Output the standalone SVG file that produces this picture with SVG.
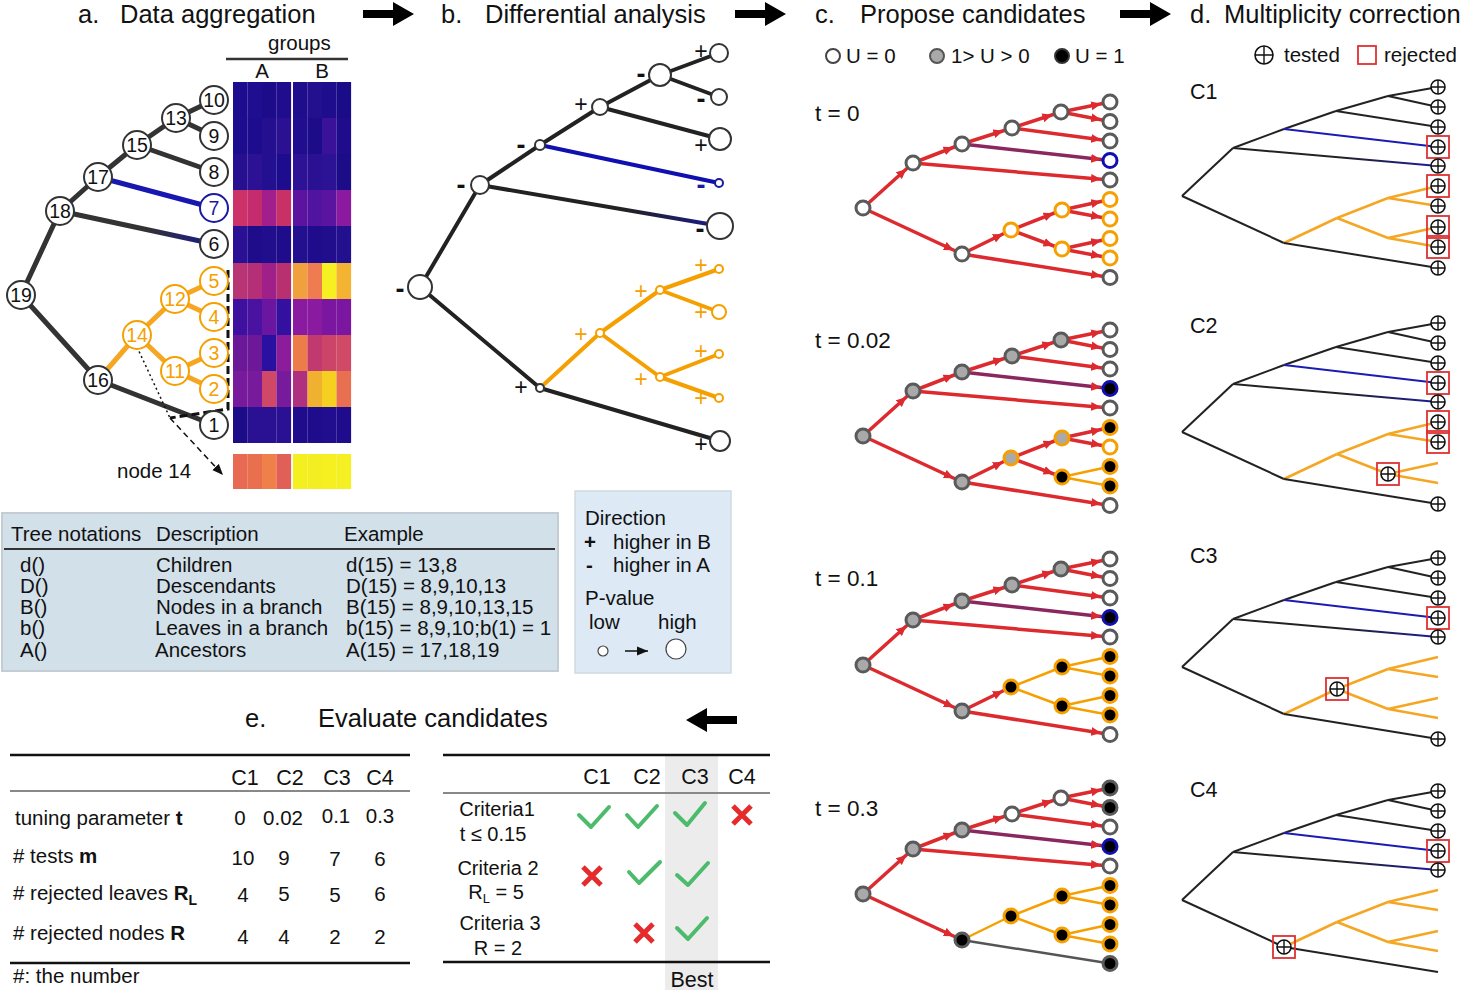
<svg xmlns="http://www.w3.org/2000/svg" width="1460" height="990" viewBox="0 0 1460 990">
<style>
text{font-family:"Liberation Sans",Arial,Helvetica,sans-serif;fill:#111}
.ttl{font-size:25.5px}
.nl{font-size:19.5px;text-anchor:middle}
.t19{font-size:20.5px}
.t18{font-size:20.5px}
.t20{font-size:21.5px}
.t22{font-size:22.5px}
.tc{font-size:20px}
.mid{text-anchor:middle}
.ea{stroke:#333;stroke-width:5;stroke-linecap:round;fill:none}
.eo{stroke:#f5a623}
.eb{stroke:#1818b0}
.na{fill:#fff;stroke:#333;stroke-width:2}
.no{stroke:#f5a000}
.nb{stroke:#1a1aa0}
.tor{fill:#f5a000}
.tbl{fill:#1a1aa0}
.bb{stroke:#222;stroke-width:4;stroke-linecap:round;fill:none}
.bo{stroke:#f5a000}
.bbl{stroke:#1010b0}
.sg{font-size:23px;text-anchor:middle}
.mn{font-weight:bold;font-size:27px}
.r{stroke:#dc2a2e;stroke-width:3.5;fill:none;marker-end:url(#ar)}
.rp{stroke:#8a2660}
.po{stroke:#f5a000;stroke-width:2.5;fill:none}
.pg{stroke:#555;stroke-width:2.5;fill:none}
.cw{fill:#fff;stroke:#5a5a5a;stroke-width:3}
.cg{fill:#a9a9a9;stroke:#5a5a5a;stroke-width:3}
.ck{fill:#000;stroke:#5a5a5a;stroke-width:3}
.so{stroke:#f5a000}
.sb{stroke:#1010b0}
.dk{stroke:#222;stroke-width:2;fill:none}
.dbl{stroke:#1c1cb4}
.dor{stroke:#f5a623;stroke-width:2.5}
.rej{fill:none;stroke:#e03030;stroke-width:1.8}
.chk{fill:none;stroke:#4cbb6c;stroke-width:4;stroke-linecap:round;stroke-linejoin:round}
.crs{fill:none;stroke:#e52b2b;stroke-width:5}
.arw{fill:#000}
</style>
<defs>
<marker id="ar" markerUnits="userSpaceOnUse" markerWidth="20" markerHeight="10" refX="19" refY="5" orient="auto">
<path d="M0,0.5 L10,5 L0,9.5 z" fill="#dc2a2e"/>
</marker>
<marker id="ak" markerUnits="userSpaceOnUse" markerWidth="12" markerHeight="10" refX="11" refY="5" orient="auto">
<path d="M0,0.5 L11,5 L0,9.5 z" fill="#111"/>
</marker>
<linearGradient id="ga6" gradientUnits="userSpaceOnUse" x1="60" y1="211" x2="214" y2="244"><stop offset="0.55" stop-color="#333"/><stop offset="1" stop-color="#1a1a8a"/></linearGradient>
<linearGradient id="gb6" gradientUnits="userSpaceOnUse" x1="480" y1="185" x2="720" y2="226"><stop offset="0.6" stop-color="#222"/><stop offset="1" stop-color="#1a1a8a"/></linearGradient>
<linearGradient id="gd6" gradientUnits="userSpaceOnUse" x1="1233" y1="148" x2="1438" y2="166"><stop offset="0.5" stop-color="#222"/><stop offset="1" stop-color="#1c1c9a"/></linearGradient>
<g id="cc"><circle r="7" fill="#fff" stroke="#111" stroke-width="1.6"/><path d="M-7,0H7M0,-7V7" stroke="#111" stroke-width="1.4"/></g>
</defs>
<rect width="1460" height="990" fill="#fff"/>

<!-- titles and arrows -->
<g id="titles">
<text class="ttl" x="78" y="23">a.</text><text class="ttl" x="120" y="23">Data aggregation</text>
<text class="ttl" x="441" y="23">b.</text><text class="ttl" x="485" y="23">Differential analysis</text>
<text class="ttl" x="815" y="23">c.</text><text class="ttl" x="860" y="23">Propose candidates</text>
<text class="ttl" x="1190" y="23">d.</text><text class="ttl" x="1224" y="23">Multiplicity correction</text>
<text class="ttl" x="245" y="727">e.</text><text class="ttl" x="318" y="727">Evaluate candidates</text>
</g>
<g id="big-arrows">
<polygon class="arw" points="363,10 393,10 393,2 414,14 393,26 393,18 363,18"/>
<polygon class="arw" points="735,10 765,10 765,2 786,14 765,26 765,18 735,18"/>
<polygon class="arw" points="1120,10 1150,10 1150,2 1171,14 1150,26 1150,18 1120,18"/>
<polygon class="arw" points="737,716 707,716 707,708 686,720 707,732 707,724 737,724"/>
</g>

<!-- panel a heatmap -->
<g id="heatmap">
<text class="t19" x="268" y="50">groups</text>
<line x1="226" y1="59" x2="348" y2="59" stroke="#333" stroke-width="2.5"/>
<text class="t19 mid" x="262" y="78">A</text>
<text class="t19 mid" x="322" y="78">B</text>
<g id="hm-rows">
<rect x="233" y="82" width="14.6" height="36.2" fill="#1e0c8e"/><rect x="247.5" y="82" width="14.6" height="36.2" fill="#200e90"/><rect x="262" y="82" width="14.6" height="36.2" fill="#1c0c8a"/><rect x="276.5" y="82" width="14.6" height="36.2" fill="#200d8e"/>
<rect x="293" y="82" width="14.6" height="36.2" fill="#1e0d8c"/><rect x="307.5" y="82" width="14.6" height="36.2" fill="#22108e"/><rect x="322" y="82" width="14.6" height="36.2" fill="#1e0d8c"/><rect x="336.5" y="82" width="14.6" height="36.2" fill="#1a0c88"/>
<rect x="233" y="118" width="14.6" height="36.2" fill="#1e0c8e"/><rect x="247.5" y="118" width="14.6" height="36.2" fill="#1e0c8e"/><rect x="262" y="118" width="14.6" height="36.2" fill="#230f90"/><rect x="276.5" y="118" width="14.6" height="36.2" fill="#2c1092"/>
<rect x="293" y="118" width="14.6" height="36.2" fill="#200e8e"/><rect x="307.5" y="118" width="14.6" height="36.2" fill="#1c0c88"/><rect x="322" y="118" width="14.6" height="36.2" fill="#3a129a"/><rect x="336.5" y="118" width="14.6" height="36.2" fill="#1e0c8c"/>
<rect x="233" y="154" width="14.6" height="36.2" fill="#261090"/><rect x="247.5" y="154" width="14.6" height="36.2" fill="#2c1194"/><rect x="262" y="154" width="14.6" height="36.2" fill="#221090"/><rect x="276.5" y="154" width="14.6" height="36.2" fill="#1e0c8e"/>
<rect x="293" y="154" width="14.6" height="36.2" fill="#2e1296"/><rect x="307.5" y="154" width="14.6" height="36.2" fill="#2a1194"/><rect x="322" y="154" width="14.6" height="36.2" fill="#2c1294"/><rect x="336.5" y="154" width="14.6" height="36.2" fill="#1c0c88"/>
<rect x="233" y="190" width="14.6" height="36.2" fill="#cc3168"/><rect x="247.5" y="190" width="14.6" height="36.2" fill="#c42c6e"/><rect x="262" y="190" width="14.6" height="36.2" fill="#a01f8c"/><rect x="276.5" y="190" width="14.6" height="36.2" fill="#c83066"/>
<rect x="293" y="190" width="14.6" height="36.2" fill="#5c14a0"/><rect x="307.5" y="190" width="14.6" height="36.2" fill="#5014a0"/><rect x="322" y="190" width="14.6" height="36.2" fill="#5a14a0"/><rect x="336.5" y="190" width="14.6" height="36.2" fill="#8c1aa0"/>
<rect x="233" y="226" width="14.6" height="37.2" fill="#2a1094"/><rect x="247.5" y="226" width="14.6" height="37.2" fill="#1e0c8a"/><rect x="262" y="226" width="14.6" height="37.2" fill="#200e8c"/><rect x="276.5" y="226" width="14.6" height="37.2" fill="#1e0c8a"/>
<rect x="293" y="226" width="14.6" height="37.2" fill="#22108e"/><rect x="307.5" y="226" width="14.6" height="37.2" fill="#1e0c8c"/><rect x="322" y="226" width="14.6" height="37.2" fill="#200e8c"/><rect x="336.5" y="226" width="14.6" height="37.2" fill="#22108e"/>
<rect x="233" y="263" width="14.6" height="36.2" fill="#b83474"/><rect x="247.5" y="263" width="14.6" height="36.2" fill="#b42e78"/><rect x="262" y="263" width="14.6" height="36.2" fill="#a0208a"/><rect x="276.5" y="263" width="14.6" height="36.2" fill="#b83070"/>
<rect x="293" y="263" width="14.6" height="36.2" fill="#f0a03c"/><rect x="307.5" y="263" width="14.6" height="36.2" fill="#ee7c50"/><rect x="322" y="263" width="14.6" height="36.2" fill="#f6f022"/><rect x="336.5" y="263" width="14.6" height="36.2" fill="#f4b432"/>
<rect x="233" y="299" width="14.6" height="36.2" fill="#3e10a0"/><rect x="247.5" y="299" width="14.6" height="36.2" fill="#4a12a0"/><rect x="262" y="299" width="14.6" height="36.2" fill="#6a16a0"/><rect x="276.5" y="299" width="14.6" height="36.2" fill="#3410a0"/>
<rect x="293" y="299" width="14.6" height="36.2" fill="#8a1aa0"/><rect x="307.5" y="299" width="14.6" height="36.2" fill="#8a1aa0"/><rect x="322" y="299" width="14.6" height="36.2" fill="#7a16a0"/><rect x="336.5" y="299" width="14.6" height="36.2" fill="#7a16a0"/>
<rect x="233" y="335" width="14.6" height="36.2" fill="#6a1898"/><rect x="247.5" y="335" width="14.6" height="36.2" fill="#6c1898"/><rect x="262" y="335" width="14.6" height="36.2" fill="#2a10a0"/><rect x="276.5" y="335" width="14.6" height="36.2" fill="#8c1c9a"/>
<rect x="293" y="335" width="14.6" height="36.2" fill="#ec7c48"/><rect x="307.5" y="335" width="14.6" height="36.2" fill="#c03a70"/><rect x="322" y="335" width="14.6" height="36.2" fill="#cc4468"/><rect x="336.5" y="335" width="14.6" height="36.2" fill="#d04a68"/>
<rect x="233" y="371" width="14.6" height="36.2" fill="#781a9c"/><rect x="247.5" y="371" width="14.6" height="36.2" fill="#781a9c"/><rect x="262" y="371" width="14.6" height="36.2" fill="#d04868"/><rect x="276.5" y="371" width="14.6" height="36.2" fill="#781a9c"/>
<rect x="293" y="371" width="14.6" height="36.2" fill="#b03080"/><rect x="307.5" y="371" width="14.6" height="36.2" fill="#f0b030"/><rect x="322" y="371" width="14.6" height="36.2" fill="#f6d020"/><rect x="336.5" y="371" width="14.6" height="36.2" fill="#e87050"/>
<rect x="233" y="407" width="14.6" height="36" fill="#1c0c88"/><rect x="247.5" y="407" width="14.6" height="36" fill="#2a1092"/><rect x="262" y="407" width="14.6" height="36" fill="#2a1092"/><rect x="276.5" y="407" width="14.6" height="36" fill="#2a1092"/>
<rect x="293" y="407" width="14.6" height="36" fill="#1e0c8c"/><rect x="307.5" y="407" width="14.6" height="36" fill="#1e0c8c"/><rect x="322" y="407" width="14.6" height="36" fill="#200e8e"/><rect x="336.5" y="407" width="14.6" height="36" fill="#1e0c8c"/>
</g>
<g id="node14-bar">
<rect x="233" y="454" width="14.6" height="35" fill="#e86a52"/><rect x="247.5" y="454" width="14.6" height="35" fill="#e8704e"/><rect x="262" y="454" width="14.6" height="35" fill="#f0804a"/><rect x="276.5" y="454" width="14.6" height="35" fill="#e06058"/>
<rect x="293" y="454" width="14.6" height="35" fill="#f4f020"/><rect x="307.5" y="454" width="14.6" height="35" fill="#f2ee22"/><rect x="322" y="454" width="14.6" height="35" fill="#f6f020"/><rect x="336.5" y="454" width="14.6" height="35" fill="#f4f024"/>
</g>
<text class="t19" x="117" y="478">node 14</text>
</g>

<!-- panel a connectors -->
<g id="a-connectors">
<line class="ea" x1="21" y1="295" x2="60" y2="211"/>
<line class="ea" x1="21" y1="295" x2="98" y2="380"/>
<line class="ea" x1="60" y1="211" x2="98" y2="177"/>
<line class="ea" x1="60" y1="211" x2="214" y2="244" style="stroke:url(#ga6)"/>
<line class="ea" x1="98" y1="177" x2="137" y2="145"/>
<line class="ea eb" x1="98" y1="177" x2="214" y2="208"/>
<line class="ea" x1="137" y1="145" x2="176" y2="118"/>
<line class="ea" x1="137" y1="145" x2="214" y2="172"/>
<line class="ea" x1="176" y1="118" x2="214" y2="100"/>
<line class="ea" x1="176" y1="118" x2="214" y2="136"/>
<line class="ea eo" x1="98" y1="380" x2="137" y2="335"/>
<line class="ea" x1="98" y1="380" x2="214" y2="425"/>
<line class="ea eo" x1="137" y1="335" x2="175" y2="299"/>
<line class="ea eo" x1="137" y1="335" x2="175" y2="371"/>
<line class="ea eo" x1="175" y1="299" x2="214" y2="281"/>
<line class="ea eo" x1="175" y1="299" x2="214" y2="317"/>
<line class="ea eo" x1="175" y1="371" x2="214" y2="353"/>
<line class="ea eo" x1="175" y1="371" x2="214" y2="389"/>
<polyline points="228,270 228,409 170,418" fill="none" stroke="#111" stroke-width="3" stroke-dasharray="8,4"/>
<line x1="137" y1="347" x2="170" y2="418" stroke="#111" stroke-width="1.5" stroke-dasharray="2,3"/>
<line x1="170" y1="418" x2="223" y2="475" stroke="#111" stroke-width="1.5" stroke-dasharray="6,4" marker-end="url(#ak)"/>
</g>
<!-- panel a nodes -->
<g id="a-n19"><circle class="na" cx="21" cy="295" r="14"/><text class="nl" x="21" y="302">19</text></g>
<g id="a-n18"><circle class="na" cx="60" cy="211" r="14"/><text class="nl" x="60" y="218">18</text></g>
<g id="a-n17"><circle class="na" cx="98" cy="177" r="14"/><text class="nl" x="98" y="184">17</text></g>
<g id="a-n15"><circle class="na" cx="137" cy="145" r="14"/><text class="nl" x="137" y="152">15</text></g>
<g id="a-n13"><circle class="na" cx="176" cy="118" r="14"/><text class="nl" x="176" y="125">13</text></g>
<g id="a-n10"><circle class="na" cx="214" cy="100" r="14"/><text class="nl" x="214" y="107">10</text></g>
<g id="a-n9"><circle class="na" cx="214" cy="136" r="14"/><text class="nl" x="214" y="143">9</text></g>
<g id="a-n8"><circle class="na" cx="214" cy="172" r="14"/><text class="nl" x="214" y="179">8</text></g>
<g id="a-n7"><circle class="na nb" cx="214" cy="208" r="14"/><text class="nl tbl" x="214" y="215">7</text></g>
<g id="a-n6"><circle class="na" cx="214" cy="244" r="14"/><text class="nl" x="214" y="251">6</text></g>
<g id="a-n16"><circle class="na" cx="98" cy="380" r="14"/><text class="nl" x="98" y="387">16</text></g>
<g id="a-n14"><circle class="na no" cx="137" cy="335" r="14"/><text class="nl tor" x="137" y="342">14</text></g>
<g id="a-n12"><circle class="na no" cx="175" cy="299" r="14"/><text class="nl tor" x="175" y="306">12</text></g>
<g id="a-n11"><circle class="na no" cx="175" cy="371" r="14"/><text class="nl tor" x="175" y="378">11</text></g>
<g id="a-n5"><circle class="na no" cx="214" cy="281" r="14"/><text class="nl tor" x="214" y="288">5</text></g>
<g id="a-n4"><circle class="na no" cx="214" cy="317" r="14"/><text class="nl tor" x="214" y="324">4</text></g>
<g id="a-n3"><circle class="na no" cx="214" cy="353" r="14"/><text class="nl tor" x="214" y="360">3</text></g>
<g id="a-n2"><circle class="na no" cx="214" cy="389" r="14"/><text class="nl tor" x="214" y="396">2</text></g>
<g id="a-n1"><circle class="na" cx="214" cy="425" r="14"/><text class="nl" x="214" y="432">1</text></g>

<!-- panel b connectors -->
<g id="b-connectors">
<line class="bb" x1="420" y1="287" x2="480" y2="185"/>
<line class="bb" x1="420" y1="287" x2="540" y2="388"/>
<line class="bb" x1="480" y1="185" x2="540" y2="145"/>
<line class="bb" x1="480" y1="185" x2="720" y2="226" style="stroke:url(#gb6)"/>
<line class="bb" x1="540" y1="145" x2="600" y2="107"/>
<line class="bb bbl" x1="540" y1="145" x2="719" y2="183"/>
<line class="bb" x1="600" y1="107" x2="660" y2="75"/>
<line class="bb" x1="600" y1="107" x2="720" y2="139"/>
<line class="bb" x1="660" y1="75" x2="719" y2="53"/>
<line class="bb" x1="660" y1="75" x2="719" y2="97"/>
<line class="bb bo" x1="540" y1="388" x2="600" y2="333"/>
<line class="bb" x1="540" y1="388" x2="720" y2="441"/>
<line class="bb bo" x1="600" y1="333" x2="660" y2="290"/>
<line class="bb bo" x1="600" y1="333" x2="660" y2="377"/>
<line class="bb bo" x1="660" y1="290" x2="719" y2="269"/>
<line class="bb bo" x1="660" y1="290" x2="719" y2="312"/>
<line class="bb bo" x1="660" y1="377" x2="719" y2="354"/>
<line class="bb bo" x1="660" y1="377" x2="719" y2="398"/>
</g>
<!-- panel b nodes -->
<g id="b-n19"><circle class="na" cx="420" cy="287" r="12"/><text class="sg mn" x="400" y="298">-</text></g>
<g id="b-n18"><circle class="na" cx="480" cy="185" r="9"/><text class="sg mn" x="461" y="194">-</text></g>
<g id="b-n17"><circle class="na" cx="540" cy="145" r="5"/><text class="sg mn" x="521" y="154">-</text></g>
<g id="b-n15"><circle class="na" cx="600" cy="107" r="8"/><text class="sg" x="581" y="112">+</text></g>
<g id="b-n13"><circle class="na" cx="660" cy="75" r="11"/><text class="sg mn" x="641" y="83">-</text></g>
<g id="b-n10"><circle class="na" cx="719" cy="53" r="9"/><text class="sg" x="701" y="59">+</text></g>
<g id="b-n9"><circle class="na" cx="719" cy="97" r="8"/><text class="sg mn" x="701" y="108">-</text></g>
<g id="b-n8"><circle class="na" cx="720" cy="139" r="11"/><text class="sg" x="701" y="153">+</text></g>
<g id="b-n7"><circle class="na nb" cx="719" cy="183" r="4"/><text class="sg mn tbl" x="701" y="194">-</text></g>
<g id="b-n6"><circle class="na" cx="720" cy="226" r="13"/><text class="sg mn" x="700" y="238">-</text></g>
<g id="b-n16"><circle class="na" cx="540" cy="388" r="4"/><text class="sg" x="521" y="395">+</text></g>
<g id="b-n14"><circle class="na no" cx="600" cy="333" r="4"/><text class="sg tor" x="581" y="342">+</text></g>
<g id="b-n12"><circle class="na no" cx="660" cy="290" r="4"/><text class="sg tor" x="641" y="299">+</text></g>
<g id="b-n11"><circle class="na no" cx="660" cy="377" r="4"/><text class="sg tor" x="641" y="387">+</text></g>
<g id="b-n5"><circle class="na no" cx="719" cy="269" r="4"/><text class="sg tor" x="701" y="273">+</text></g>
<g id="b-n4"><circle class="na no" cx="719" cy="312" r="7"/><text class="sg tor" x="701" y="320">+</text></g>
<g id="b-n3"><circle class="na no" cx="719" cy="354" r="4"/><text class="sg tor" x="701" y="359">+</text></g>
<g id="b-n2"><circle class="na no" cx="719" cy="398" r="4"/><text class="sg tor" x="701" y="406">+</text></g>
<g id="b-n1"><circle class="na" cx="720" cy="441" r="10"/><text class="sg" x="701" y="452">+</text></g>

<!-- tree notations table -->
<g id="notation-table">
<rect x="2" y="513" width="556" height="158" fill="#d2e0ea" stroke="#c4ccd4" stroke-width="2"/>
<text class="t19" x="11" y="541">Tree notations</text>
<text class="t19" x="156" y="541">Description</text>
<text class="t19" x="344" y="541">Example</text>
<line x1="4" y1="549" x2="555" y2="549" stroke="#333" stroke-width="2"/>
<text class="t18" x="20" y="572">d()</text><text class="t18" x="156" y="572">Children</text><text class="t18" x="346" y="572">d(15) = 13,8</text>
<text class="t18" x="20" y="593">D()</text><text class="t18" x="156" y="593">Descendants</text><text class="t18" x="346" y="593">D(15) = 8,9,10,13</text>
<text class="t18" x="20" y="614">B()</text><text class="t18" x="156" y="614">Nodes in a branch</text><text class="t18" x="346" y="614">B(15) = 8,9,10,13,15</text>
<text class="t18" x="20" y="635">b()</text><text class="t18" x="155" y="635">Leaves in a branch</text><text class="t18" x="346" y="635">b(15) = 8,9,10;b(1) = 1</text>
<text class="t18" x="20" y="657">A()</text><text class="t18" x="155" y="657">Ancestors</text><text class="t18" x="346" y="657">A(15) = 17,18,19</text>
</g>

<!-- legend box -->
<g id="legend-b">
<rect x="575" y="491" width="156" height="182" fill="#dde9f5" stroke="#d0dae4" stroke-width="1.5"/>
<text class="t19" x="585" y="525">Direction</text>
<text class="t19" x="584" y="549" font-weight="bold">+</text><text class="t19" x="613" y="549">higher in B</text>
<text class="t19" x="586" y="572" font-weight="bold">-</text><text class="t19" x="613" y="572">higher in A</text>
<text class="t19" x="585" y="605">P-value</text>
<text class="t19" x="589" y="629">low</text>
<text class="t19" x="658" y="629">high</text>
<circle cx="603" cy="651" r="5" fill="#fff" stroke="#444" stroke-width="1.2"/>
<line x1="625" y1="651" x2="648" y2="651" stroke="#111" stroke-width="1.5" marker-end="url(#ak)"/>
<circle cx="676" cy="649" r="10" fill="#fff" stroke="#444" stroke-width="1.2"/>
</g>

<!-- panel c legend -->
<g id="c-legend">
<circle cx="833" cy="56" r="7" fill="#fff" stroke="#444" stroke-width="2"/><text class="t19" x="846" y="63">U = 0</text>
<circle cx="937" cy="56" r="7" fill="#a9a9a9" stroke="#555" stroke-width="2"/><text class="t19" x="951" y="63">1&gt; U &gt; 0</text>
<circle cx="1062" cy="56" r="7" fill="#000" stroke="#333" stroke-width="2"/><text class="t19" x="1075" y="63">U = 1</text>
<text class="t22" x="815" y="121">t = 0</text>
<text class="t22" x="815" y="348">t = 0.02</text>
<text class="t22" x="815" y="586">t = 0.1</text>
<text class="t22" x="815" y="816">t = 0.3</text>
</g>

<!-- panel c tree t=0 -->
<g id="c-t0">
<g id="c-t0-connectors">
<line class="r" x1="863" y1="208" x2="913" y2="163"/>
<line class="r" x1="863" y1="208" x2="962" y2="254"/>
<line class="r" x1="913" y1="163" x2="962" y2="144"/>
<line class="r" x1="913" y1="163" x2="1110" y2="180"/>
<line class="r" x1="962" y1="144" x2="1012" y2="128"/>
<line class="r rp" x1="962" y1="144" x2="1110" y2="160.5"/>
<line class="r" x1="1012" y1="128" x2="1061" y2="112"/>
<line class="r" x1="1012" y1="128" x2="1110" y2="141"/>
<line class="r" x1="1061" y1="112" x2="1110" y2="102"/>
<line class="r" x1="1061" y1="112" x2="1110" y2="121.5"/>
<line class="r" x1="962" y1="254" x2="1011" y2="230"/>
<line class="r" x1="962" y1="254" x2="1110" y2="277.5"/>
<line class="r" x1="1011" y1="230" x2="1062" y2="210"/>
<line class="r" x1="1011" y1="230" x2="1062" y2="249"/>
<line class="r" x1="1062" y1="210" x2="1110" y2="199.5"/>
<line class="r" x1="1062" y1="210" x2="1110" y2="219"/>
<line class="r" x1="1062" y1="249" x2="1110" y2="238.5"/>
<line class="r" x1="1062" y1="249" x2="1110" y2="258"/>
</g>
<g id="c0-root"><circle class="cw" cx="863" cy="208" r="7"/></g>
<g id="c0-n18"><circle class="cw" cx="913" cy="163" r="7"/></g>
<g id="c0-n17"><circle class="cw" cx="962" cy="144" r="7"/></g>
<g id="c0-n15"><circle class="cw" cx="1012" cy="128" r="7"/></g>
<g id="c0-n13"><circle class="cw" cx="1061" cy="112" r="7"/></g>
<g id="c0-n10"><circle class="cw" cx="1110" cy="102" r="7"/></g>
<g id="c0-n9"><circle class="cw" cx="1110" cy="121.5" r="7"/></g>
<g id="c0-n8"><circle class="cw" cx="1110" cy="141" r="7"/></g>
<g id="c0-n7"><circle class="cw sb" cx="1110" cy="160.5" r="7"/></g>
<g id="c0-n6"><circle class="cw" cx="1110" cy="180" r="7"/></g>
<g id="c0-n16"><circle class="cw" cx="962" cy="254" r="7"/></g>
<g id="c0-n14"><circle class="cw so" cx="1011" cy="230" r="7"/></g>
<g id="c0-n12"><circle class="cw so" cx="1062" cy="210" r="7"/></g>
<g id="c0-n11"><circle class="cw so" cx="1062" cy="249" r="7"/></g>
<g id="c0-n5"><circle class="cw so" cx="1110" cy="199.5" r="7"/></g>
<g id="c0-n4"><circle class="cw so" cx="1110" cy="219" r="7"/></g>
<g id="c0-n3"><circle class="cw so" cx="1110" cy="238.5" r="7"/></g>
<g id="c0-n2"><circle class="cw so" cx="1110" cy="258" r="7"/></g>
<g id="c0-n1"><circle class="cw" cx="1110" cy="277.5" r="7"/></g>
</g>

<!-- panel c tree t=0.02 -->
<g id="c-t002" transform="translate(0,228)">
<g id="c-t002-connectors">
<line class="r" x1="863" y1="208" x2="913" y2="163"/>
<line class="r" x1="863" y1="208" x2="962" y2="254"/>
<line class="r" x1="913" y1="163" x2="962" y2="144"/>
<line class="r" x1="913" y1="163" x2="1110" y2="180"/>
<line class="r" x1="962" y1="144" x2="1012" y2="128"/>
<line class="r rp" x1="962" y1="144" x2="1110" y2="160.5"/>
<line class="r" x1="1012" y1="128" x2="1061" y2="112"/>
<line class="r" x1="1012" y1="128" x2="1110" y2="141"/>
<line class="r" x1="1061" y1="112" x2="1110" y2="102"/>
<line class="r" x1="1061" y1="112" x2="1110" y2="121.5"/>
<line class="r" x1="962" y1="254" x2="1011" y2="230"/>
<line class="r" x1="962" y1="254" x2="1110" y2="277.5"/>
<line class="r" x1="1011" y1="230" x2="1062" y2="210"/>
<line class="r" x1="1011" y1="230" x2="1062" y2="249"/>
<line class="r" x1="1062" y1="210" x2="1110" y2="199.5"/>
<line class="r" x1="1062" y1="210" x2="1110" y2="219"/>
<line class="po" x1="1062" y1="249" x2="1110" y2="238.5"/>
<line class="po" x1="1062" y1="249" x2="1110" y2="258"/>
</g>
<g id="c1-root"><circle class="cg" cx="863" cy="208" r="7"/></g>
<g id="c1-n18"><circle class="cg" cx="913" cy="163" r="7"/></g>
<g id="c1-n17"><circle class="cg" cx="962" cy="144" r="7"/></g>
<g id="c1-n15"><circle class="cg" cx="1012" cy="128" r="7"/></g>
<g id="c1-n13"><circle class="cg" cx="1061" cy="112" r="7"/></g>
<g id="c1-n10"><circle class="cw" cx="1110" cy="102" r="7"/></g>
<g id="c1-n9"><circle class="cw" cx="1110" cy="121.5" r="7"/></g>
<g id="c1-n8"><circle class="cw" cx="1110" cy="141" r="7"/></g>
<g id="c1-n7"><circle class="ck sb" cx="1110" cy="160.5" r="7"/></g>
<g id="c1-n6"><circle class="cw" cx="1110" cy="180" r="7"/></g>
<g id="c1-n16"><circle class="cg" cx="962" cy="254" r="7"/></g>
<g id="c1-n14"><circle class="cg so" cx="1011" cy="230" r="7"/></g>
<g id="c1-n12"><circle class="cg so" cx="1062" cy="210" r="7"/></g>
<g id="c1-n11"><circle class="ck so" cx="1062" cy="249" r="7"/></g>
<g id="c1-n5"><circle class="ck so" cx="1110" cy="199.5" r="7"/></g>
<g id="c1-n4"><circle class="cw so" cx="1110" cy="219" r="7"/></g>
<g id="c1-n3"><circle class="ck so" cx="1110" cy="238.5" r="7"/></g>
<g id="c1-n2"><circle class="ck so" cx="1110" cy="258" r="7"/></g>
<g id="c1-n1"><circle class="cw" cx="1110" cy="277.5" r="7"/></g>
</g>

<!-- panel c tree t=0.1 -->
<g id="c-t01" transform="translate(0,457)">
<g id="c-t01-connectors">
<line class="r" x1="863" y1="208" x2="913" y2="163"/>
<line class="r" x1="863" y1="208" x2="962" y2="254"/>
<line class="r" x1="913" y1="163" x2="962" y2="144"/>
<line class="r" x1="913" y1="163" x2="1110" y2="180"/>
<line class="r" x1="962" y1="144" x2="1012" y2="128"/>
<line class="r rp" x1="962" y1="144" x2="1110" y2="160.5"/>
<line class="r" x1="1012" y1="128" x2="1061" y2="112"/>
<line class="r" x1="1012" y1="128" x2="1110" y2="141"/>
<line class="r" x1="1061" y1="112" x2="1110" y2="102"/>
<line class="r" x1="1061" y1="112" x2="1110" y2="121.5"/>
<line class="r" x1="962" y1="254" x2="1011" y2="230"/>
<line class="r" x1="962" y1="254" x2="1110" y2="277.5"/>
<line class="po" x1="1011" y1="230" x2="1062" y2="210"/>
<line class="po" x1="1011" y1="230" x2="1062" y2="249"/>
<line class="po" x1="1062" y1="210" x2="1110" y2="199.5"/>
<line class="po" x1="1062" y1="210" x2="1110" y2="219"/>
<line class="po" x1="1062" y1="249" x2="1110" y2="238.5"/>
<line class="po" x1="1062" y1="249" x2="1110" y2="258"/>
</g>
<g id="c2-root"><circle class="cg" cx="863" cy="208" r="7"/></g>
<g id="c2-n18"><circle class="cg" cx="913" cy="163" r="7"/></g>
<g id="c2-n17"><circle class="cg" cx="962" cy="144" r="7"/></g>
<g id="c2-n15"><circle class="cg" cx="1012" cy="128" r="7"/></g>
<g id="c2-n13"><circle class="cg" cx="1061" cy="112" r="7"/></g>
<g id="c2-n10"><circle class="cw" cx="1110" cy="102" r="7"/></g>
<g id="c2-n9"><circle class="cw" cx="1110" cy="121.5" r="7"/></g>
<g id="c2-n8"><circle class="cw" cx="1110" cy="141" r="7"/></g>
<g id="c2-n7"><circle class="ck sb" cx="1110" cy="160.5" r="7"/></g>
<g id="c2-n6"><circle class="cw" cx="1110" cy="180" r="7"/></g>
<g id="c2-n16"><circle class="cg" cx="962" cy="254" r="7"/></g>
<g id="c2-n14"><circle class="ck so" cx="1011" cy="230" r="7"/></g>
<g id="c2-n12"><circle class="ck so" cx="1062" cy="210" r="7"/></g>
<g id="c2-n11"><circle class="ck so" cx="1062" cy="249" r="7"/></g>
<g id="c2-n5"><circle class="ck so" cx="1110" cy="199.5" r="7"/></g>
<g id="c2-n4"><circle class="ck so" cx="1110" cy="219" r="7"/></g>
<g id="c2-n3"><circle class="ck so" cx="1110" cy="238.5" r="7"/></g>
<g id="c2-n2"><circle class="ck so" cx="1110" cy="258" r="7"/></g>
<g id="c2-n1"><circle class="cw" cx="1110" cy="277.5" r="7"/></g>
</g>

<!-- panel c tree t=0.3 -->
<g id="c-t03" transform="translate(0,686)">
<g id="c-t03-connectors">
<line class="r" x1="863" y1="208" x2="913" y2="163"/>
<line class="r" x1="863" y1="208" x2="962" y2="254"/>
<line class="r" x1="913" y1="163" x2="962" y2="144"/>
<line class="r" x1="913" y1="163" x2="1110" y2="180"/>
<line class="r" x1="962" y1="144" x2="1012" y2="128"/>
<line class="r rp" x1="962" y1="144" x2="1110" y2="160.5"/>
<line class="r" x1="1012" y1="128" x2="1061" y2="112"/>
<line class="r" x1="1012" y1="128" x2="1110" y2="141"/>
<line class="r" x1="1061" y1="112" x2="1110" y2="102"/>
<line class="r" x1="1061" y1="112" x2="1110" y2="121.5"/>
<line class="po" x1="962" y1="254" x2="1011" y2="230"/>
<line class="pg" x1="962" y1="254" x2="1110" y2="277.5"/>
<line class="po" x1="1011" y1="230" x2="1062" y2="210"/>
<line class="po" x1="1011" y1="230" x2="1062" y2="249"/>
<line class="po" x1="1062" y1="210" x2="1110" y2="199.5"/>
<line class="po" x1="1062" y1="210" x2="1110" y2="219"/>
<line class="po" x1="1062" y1="249" x2="1110" y2="238.5"/>
<line class="po" x1="1062" y1="249" x2="1110" y2="258"/>
</g>
<g id="c3-root"><circle class="cg" cx="863" cy="208" r="7"/></g>
<g id="c3-n18"><circle class="cg" cx="913" cy="163" r="7"/></g>
<g id="c3-n17"><circle class="cg" cx="962" cy="144" r="7"/></g>
<g id="c3-n15"><circle class="cw" cx="1012" cy="128" r="7"/></g>
<g id="c3-n13"><circle class="cw" cx="1061" cy="112" r="7"/></g>
<g id="c3-n10"><circle class="ck" cx="1110" cy="102" r="7"/></g>
<g id="c3-n9"><circle class="ck" cx="1110" cy="121.5" r="7"/></g>
<g id="c3-n8"><circle class="cw" cx="1110" cy="141" r="7"/></g>
<g id="c3-n7"><circle class="ck sb" cx="1110" cy="160.5" r="7"/></g>
<g id="c3-n6"><circle class="cw" cx="1110" cy="180" r="7"/></g>
<g id="c3-n16"><circle class="ck" cx="962" cy="254" r="7"/></g>
<g id="c3-n14"><circle class="ck so" cx="1011" cy="230" r="7"/></g>
<g id="c3-n12"><circle class="ck so" cx="1062" cy="210" r="7"/></g>
<g id="c3-n11"><circle class="ck so" cx="1062" cy="249" r="7"/></g>
<g id="c3-n5"><circle class="ck so" cx="1110" cy="199.5" r="7"/></g>
<g id="c3-n4"><circle class="ck so" cx="1110" cy="219" r="7"/></g>
<g id="c3-n3"><circle class="ck so" cx="1110" cy="238.5" r="7"/></g>
<g id="c3-n2"><circle class="ck so" cx="1110" cy="258" r="7"/></g>
<g id="c3-n1"><circle class="ck" cx="1110" cy="277.5" r="7"/></g>
</g>

<!-- panel d legend -->
<g id="d-legend">
<circle cx="1264" cy="55" r="9" fill="#fff" stroke="#111" stroke-width="1.6"/><path d="M1255,55H1273M1264,46V64" stroke="#111" stroke-width="1.4"/>
<text class="t19" x="1284" y="62">tested</text>
<rect x="1358" y="46" width="18" height="18" class="rej"/>
<text class="t19" x="1384" y="62">rejected</text>
<text class="t20" x="1190" y="99" font-size="22">C1</text>
<text class="t20" x="1190" y="333" font-size="22">C2</text>
<text class="t20" x="1190" y="563" font-size="22">C3</text>
<text class="t20" x="1190" y="797" font-size="22">C4</text>
</g>

<!-- panel d C1 -->
<g id="d-C1">
<g id="d-C1-connectors">
<line class="dk" x1="1182" y1="196" x2="1233" y2="148"/>
<line class="dk" x1="1182" y1="196" x2="1284" y2="243"/>
<line class="dk" x1="1233" y1="148" x2="1284" y2="129"/>
<line class="dk" x1="1233" y1="148" x2="1438" y2="166" style="stroke:url(#gd6)"/>
<line class="dk" x1="1284" y1="129" x2="1336" y2="111"/>
<line class="dk dbl" x1="1284" y1="129" x2="1438" y2="147"/>
<line class="dk" x1="1336" y1="111" x2="1388" y2="96"/>
<line class="dk" x1="1336" y1="111" x2="1438" y2="127"/>
<line class="dk" x1="1388" y1="96" x2="1438" y2="87"/>
<line class="dk" x1="1388" y1="96" x2="1438" y2="107"/>
<line class="dk dor" x1="1284" y1="243" x2="1337" y2="218"/>
<line class="dk" x1="1284" y1="243" x2="1438" y2="268"/>
<line class="dk dor" x1="1337" y1="218" x2="1388" y2="198"/>
<line class="dk dor" x1="1337" y1="218" x2="1388" y2="238"/>
<line class="dk dor" x1="1388" y1="198" x2="1438" y2="186"/>
<line class="dk dor" x1="1388" y1="198" x2="1438" y2="206"/>
<line class="dk dor" x1="1388" y1="238" x2="1438" y2="227"/>
<line class="dk dor" x1="1388" y1="238" x2="1438" y2="247"/>
</g>
<g id="d1-n10"><use href="#cc" x="1438" y="87"/></g>
<g id="d1-n9"><use href="#cc" x="1438" y="107"/></g>
<g id="d1-n8"><use href="#cc" x="1438" y="127"/></g>
<g id="d1-n7"><use href="#cc" x="1438" y="147"/><rect class="rej" x="1427" y="136" width="22" height="22"/></g>
<g id="d1-n6"><use href="#cc" x="1438" y="166"/></g>
<g id="d1-n5"><use href="#cc" x="1438" y="186"/><rect class="rej" x="1427" y="175" width="22" height="22"/></g>
<g id="d1-n4"><use href="#cc" x="1438" y="206"/></g>
<g id="d1-n3"><use href="#cc" x="1438" y="227"/><rect class="rej" x="1427" y="216" width="22" height="22"/></g>
<g id="d1-n2"><use href="#cc" x="1438" y="247"/><rect class="rej" x="1427" y="236" width="22" height="22"/></g>
<g id="d1-n1"><use href="#cc" x="1438" y="268"/></g>
</g>

<!-- panel d C2 -->
<g id="d-C2" transform="translate(0,236)">
<g id="d-C2-connectors">
<line class="dk" x1="1182" y1="196" x2="1233" y2="148"/>
<line class="dk" x1="1182" y1="196" x2="1284" y2="243"/>
<line class="dk" x1="1233" y1="148" x2="1284" y2="129"/>
<line class="dk" x1="1233" y1="148" x2="1438" y2="166" style="stroke:url(#gd6)"/>
<line class="dk" x1="1284" y1="129" x2="1336" y2="111"/>
<line class="dk dbl" x1="1284" y1="129" x2="1438" y2="147"/>
<line class="dk" x1="1336" y1="111" x2="1388" y2="96"/>
<line class="dk" x1="1336" y1="111" x2="1438" y2="127"/>
<line class="dk" x1="1388" y1="96" x2="1438" y2="87"/>
<line class="dk" x1="1388" y1="96" x2="1438" y2="107"/>
<line class="dk dor" x1="1284" y1="243" x2="1337" y2="218"/>
<line class="dk" x1="1284" y1="243" x2="1438" y2="268"/>
<line class="dk dor" x1="1337" y1="218" x2="1388" y2="198"/>
<line class="dk dor" x1="1337" y1="218" x2="1388" y2="238"/>
<line class="dk dor" x1="1388" y1="198" x2="1438" y2="186"/>
<line class="dk dor" x1="1388" y1="198" x2="1438" y2="206"/>
<line class="dk dor" x1="1388" y1="238" x2="1438" y2="227"/>
<line class="dk dor" x1="1388" y1="238" x2="1438" y2="247"/>
</g>
<g id="d2-n10"><use href="#cc" x="1438" y="87"/></g>
<g id="d2-n9"><use href="#cc" x="1438" y="107"/></g>
<g id="d2-n8"><use href="#cc" x="1438" y="127"/></g>
<g id="d2-n7"><use href="#cc" x="1438" y="147"/><rect class="rej" x="1427" y="136" width="22" height="22"/></g>
<g id="d2-n6"><use href="#cc" x="1438" y="166"/></g>
<g id="d2-n5"><use href="#cc" x="1438" y="186"/><rect class="rej" x="1427" y="175" width="22" height="22"/></g>
<g id="d2-n4"><use href="#cc" x="1438" y="206"/><rect class="rej" x="1427" y="195" width="22" height="22"/></g>
<g id="d2-n11"><use href="#cc" x="1388" y="238"/><rect class="rej" x="1377" y="227" width="22" height="22"/></g>
<g id="d2-n1"><use href="#cc" x="1438" y="268"/></g>
</g>

<!-- panel d C3 -->
<g id="d-C3" transform="translate(0,471)">
<g id="d-C3-connectors">
<line class="dk" x1="1182" y1="196" x2="1233" y2="148"/>
<line class="dk" x1="1182" y1="196" x2="1284" y2="243"/>
<line class="dk" x1="1233" y1="148" x2="1284" y2="129"/>
<line class="dk" x1="1233" y1="148" x2="1438" y2="166" style="stroke:url(#gd6)"/>
<line class="dk" x1="1284" y1="129" x2="1336" y2="111"/>
<line class="dk dbl" x1="1284" y1="129" x2="1438" y2="147"/>
<line class="dk" x1="1336" y1="111" x2="1388" y2="96"/>
<line class="dk" x1="1336" y1="111" x2="1438" y2="127"/>
<line class="dk" x1="1388" y1="96" x2="1438" y2="87"/>
<line class="dk" x1="1388" y1="96" x2="1438" y2="107"/>
<line class="dk dor" x1="1284" y1="243" x2="1337" y2="218"/>
<line class="dk" x1="1284" y1="243" x2="1438" y2="268"/>
<line class="dk dor" x1="1337" y1="218" x2="1388" y2="198"/>
<line class="dk dor" x1="1337" y1="218" x2="1388" y2="238"/>
<line class="dk dor" x1="1388" y1="198" x2="1438" y2="186"/>
<line class="dk dor" x1="1388" y1="198" x2="1438" y2="206"/>
<line class="dk dor" x1="1388" y1="238" x2="1438" y2="227"/>
<line class="dk dor" x1="1388" y1="238" x2="1438" y2="247"/>
</g>
<g id="d3-n10"><use href="#cc" x="1438" y="87"/></g>
<g id="d3-n9"><use href="#cc" x="1438" y="107"/></g>
<g id="d3-n8"><use href="#cc" x="1438" y="127"/></g>
<g id="d3-n7"><use href="#cc" x="1438" y="147"/><rect class="rej" x="1427" y="136" width="22" height="22"/></g>
<g id="d3-n6"><use href="#cc" x="1438" y="166"/></g>
<g id="d3-n14"><use href="#cc" x="1337" y="218"/><rect class="rej" x="1326" y="207" width="22" height="22"/></g>
<g id="d3-n1"><use href="#cc" x="1438" y="268"/></g>
</g>

<!-- panel d C4 -->
<g id="d-C4" transform="translate(0,704)">
<g id="d-C4-connectors">
<line class="dk" x1="1182" y1="196" x2="1233" y2="148"/>
<line class="dk" x1="1182" y1="196" x2="1284" y2="243"/>
<line class="dk" x1="1233" y1="148" x2="1284" y2="129"/>
<line class="dk" x1="1233" y1="148" x2="1438" y2="166" style="stroke:url(#gd6)"/>
<line class="dk" x1="1284" y1="129" x2="1336" y2="111"/>
<line class="dk dbl" x1="1284" y1="129" x2="1438" y2="147"/>
<line class="dk" x1="1336" y1="111" x2="1388" y2="96"/>
<line class="dk" x1="1336" y1="111" x2="1438" y2="127"/>
<line class="dk" x1="1388" y1="96" x2="1438" y2="87"/>
<line class="dk" x1="1388" y1="96" x2="1438" y2="107"/>
<line class="dk dor" x1="1284" y1="243" x2="1337" y2="218"/>
<line class="dk" x1="1284" y1="243" x2="1438" y2="268"/>
<line class="dk dor" x1="1337" y1="218" x2="1388" y2="198"/>
<line class="dk dor" x1="1337" y1="218" x2="1388" y2="238"/>
<line class="dk dor" x1="1388" y1="198" x2="1438" y2="186"/>
<line class="dk dor" x1="1388" y1="198" x2="1438" y2="206"/>
<line class="dk dor" x1="1388" y1="238" x2="1438" y2="227"/>
<line class="dk dor" x1="1388" y1="238" x2="1438" y2="247"/>
</g>
<g id="d4-n10"><use href="#cc" x="1438" y="87"/></g>
<g id="d4-n9"><use href="#cc" x="1438" y="107"/></g>
<g id="d4-n8"><use href="#cc" x="1438" y="127"/></g>
<g id="d4-n7"><use href="#cc" x="1438" y="147"/><rect class="rej" x="1427" y="136" width="22" height="22"/></g>
<g id="d4-n6"><use href="#cc" x="1438" y="166"/></g>
<g id="d4-n16"><use href="#cc" x="1284" y="243"/><rect class="rej" x="1273" y="232" width="22" height="22"/></g>
</g>

<!-- panel e left table -->
<g id="e-table-left">
<line x1="10" y1="755" x2="410" y2="755" stroke="#111" stroke-width="2.5"/>
<line x1="10" y1="791" x2="410" y2="791" stroke="#888" stroke-width="1.8"/>
<line x1="10" y1="963" x2="410" y2="963" stroke="#111" stroke-width="2.5"/>
<text class="t20 mid" x="245" y="785">C1</text>
<text class="t20 mid" x="290" y="785">C2</text>
<text class="t20 mid" x="337" y="785">C3</text>
<text class="t20 mid" x="380" y="785">C4</text>
<text class="t19" x="15" y="825">tuning parameter  <tspan font-weight="bold">t</tspan></text>
<text class="t19 mid" x="240" y="825">0</text><text class="t19 mid" x="283" y="825">0.02</text><text class="t19 mid" x="336" y="823">0.1</text><text class="t19 mid" x="380" y="823">0.3</text>
<text class="t19" x="13" y="863"># tests  <tspan font-weight="bold">m</tspan></text>
<text class="t19 mid" x="243" y="865">10</text><text class="t19 mid" x="284" y="865">9</text><text class="t19 mid" x="335" y="866">7</text><text class="t19 mid" x="380" y="866">6</text>
<text class="t19" x="13" y="900"># rejected leaves <tspan font-weight="bold">R</tspan><tspan font-weight="bold" font-size="14" dy="5">L</tspan></text>
<text class="t19 mid" x="243" y="902">4</text><text class="t19 mid" x="284" y="901">5</text><text class="t19 mid" x="335" y="902">5</text><text class="t19 mid" x="380" y="901">6</text>
<text class="t19" x="13" y="940"># rejected nodes  <tspan font-weight="bold">R</tspan></text>
<text class="t19 mid" x="243" y="944">4</text><text class="t19 mid" x="284" y="944">4</text><text class="t19 mid" x="335" y="944">2</text><text class="t19 mid" x="380" y="944">2</text>
<text class="t19" x="13" y="983">#: the number</text>
</g>

<!-- panel e right table -->
<g id="e-table-right">
<rect x="665" y="755" width="53" height="235" fill="#ececec"/>
<line x1="443" y1="755" x2="770" y2="755" stroke="#111" stroke-width="2.5"/>
<line x1="443" y1="793" x2="770" y2="793" stroke="#888" stroke-width="1.8"/>
<line x1="443" y1="962" x2="770" y2="962" stroke="#111" stroke-width="2.5"/>
<text class="t20 mid" x="597" y="784">C1</text>
<text class="t20 mid" x="647" y="784">C2</text>
<text class="t20 mid" x="695" y="784">C3</text>
<text class="t20 mid" x="742" y="784">C4</text>
<text class="tc mid" x="497" y="816">Criteria1</text>
<text class="tc mid" x="493" y="841">t ≤ 0.15</text>
<text class="tc mid" x="498" y="875">Criteria 2</text>
<text class="tc mid" x="496" y="899">R<tspan font-size="13" dy="4">L</tspan><tspan dy="-4"> = 5</tspan></text>
<text class="tc mid" x="500" y="930">Criteria 3</text>
<text class="tc mid" x="498" y="955">R = 2</text>
<text class="t20 mid" x="692" y="987">Best</text>
<polyline class="chk" points="579,815 591,827 609,807"/>
<polyline class="chk" points="627,815 638,827 657,806"/>
<polyline class="chk" points="675,813 687,825 705,803"/>
<path class="crs" d="M733,806 L751,824 M751,806 L733,824"/>
<path class="crs" d="M583,867 L601,885 M601,867 L583,885"/>
<polyline class="chk" points="629,872 639,883 660,862"/>
<polyline class="chk" points="677,875 688,885 708,863"/>
<path class="crs" d="M635,924 L653,942 M653,924 L635,942"/>
<polyline class="chk" points="677,928 688,939 707,918"/>
</g>
</svg>
